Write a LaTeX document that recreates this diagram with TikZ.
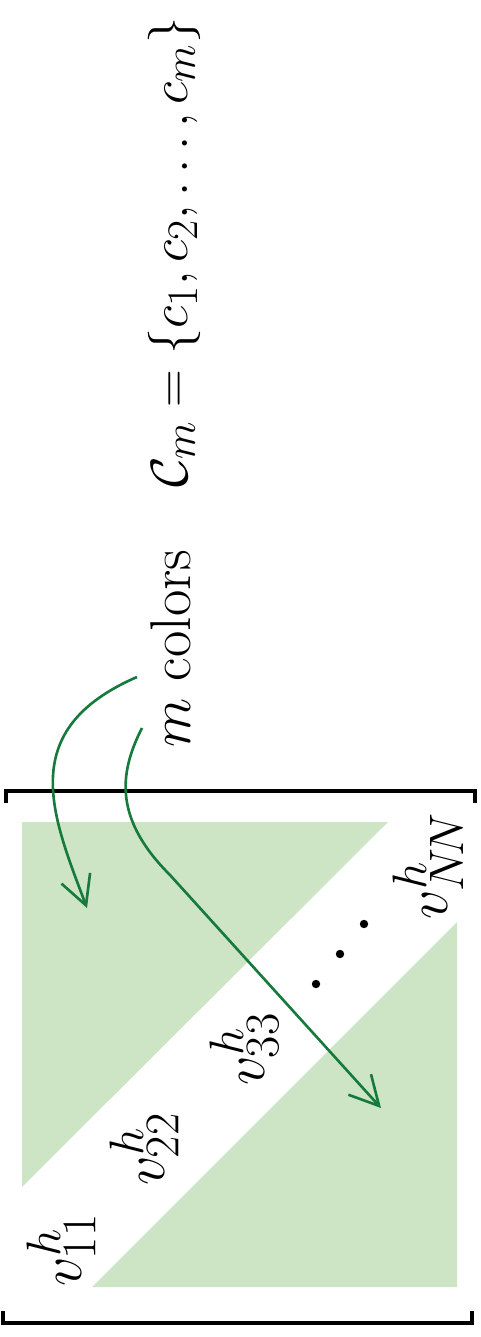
\documentclass[tikz,border=0pt]{standalone}
\usetikzlibrary{arrows.meta}
\definecolor{arrowgreen}{RGB}{22,122,60}
\definecolor{fillgreen}{RGB}{205,229,196}
\begin{document}
\begin{tikzpicture}[x=0.19pt,y=-0.19pt,
  bracketline/.style={line width=0.65pt, line cap=butt},
  greentri/.style={fill=fillgreen, draw=none},
  pointer/.style={draw=arrowgreen, line width=0.5pt, -{Straight Barb[length=5.5pt,width=5.8pt]}},
  lbl/.style={rotate=90, inner sep=0pt, scale=0.43, font=\fontsize{24.88}{30}\selectfont},
  dotmark/.style={circle, fill=black, inner sep=0pt, minimum size=1.6pt}
]
\useasboundingbox (0,0) rectangle (480,1337);
% green triangles
\fill[greentri] (22,822) -- (388,822) -- (22,1187) -- cycle;
\fill[greentri] (457,922) -- (457,1287) -- (92,1287) -- cycle;
% brackets
\draw[bracketline] (6,803) -- (6,791) -- (475,791) -- (475,803);
\draw[bracketline] (3,1311) -- (3,1323) -- (472,1323) -- (472,1311);
% labels
\node[lbl, scale=1.03] (v11) at (61,1250) {$v_{11}^h$};
\node[lbl, scale=1.03] (v22) at (144,1149) {$v_{22}^h$};
\node[lbl, scale=1.03] (v33) at (244,1049) {$v_{33}^h$};
\node[dotmark] (d1) at (316,984) {};
\node[dotmark] (d2) at (340,954) {};
\node[dotmark] (d3) at (364,924) {};
\node[lbl, scale=1.03] (vNN) at (428,866) {$v_{N\!N}^h$};
\node[lbl, anchor=base west, scale=1.02] (mc) at (190,748) {$m$ colors};
\node[lbl, anchor=base west, scale=0.93] (cm) at (187,488) {$\mathcal{C}_m = \{c_1, c_2, \ldots, c_m\}$};
% arrows
\coordinate (s1) at (137,677);
\coordinate (t1) at (87,908);
\coordinate (s2) at (142,728);
\coordinate (k2) at (170,875);
\coordinate (t2) at (381,1108);
\draw[pointer] (s1) .. controls (15,730) and (52,815) .. (t1);
\draw[pointer] (s2) .. controls (118,775) and (115,820) .. (k2) -- (t2);
\end{tikzpicture}
\end{document}
